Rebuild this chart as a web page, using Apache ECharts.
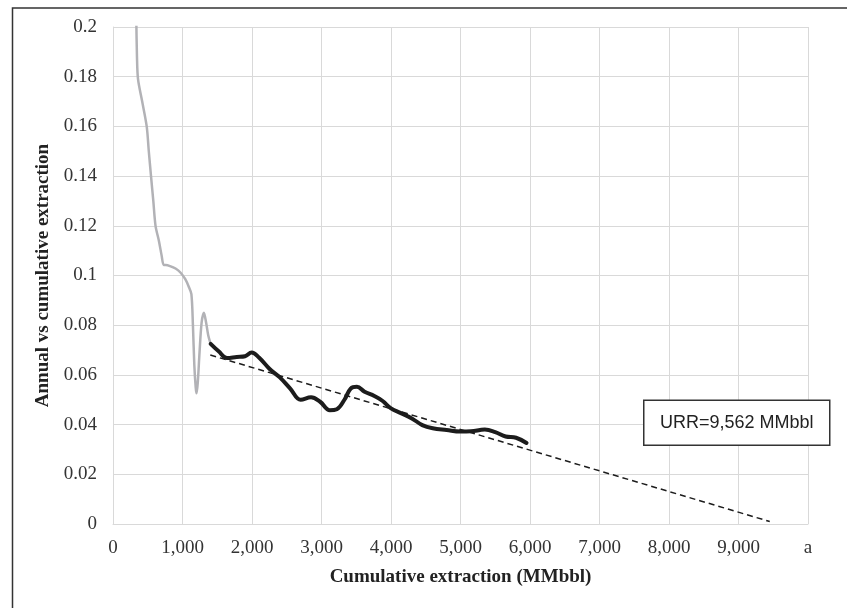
<!DOCTYPE html>
<html>
<head>
<meta charset="utf-8">
<script src="https://cdn.jsdelivr.net/npm/echarts@6/dist/echarts.min.js"></script>
<style>
html,body{margin:0;padding:0;background:#fff;}
#chart{width:847px;height:608px;}
</style>
</head>
<body>
<div id="chart"></div>
<script>
// ---- data ----
var xTickLabels = ['0','1,000','2,000','3,000','4,000','5,000','6,000','7,000','8,000','9,000','a'];
var yTickLabels = ['0','0.02','0.04','0.06','0.08','0.1','0.12','0.14','0.16','0.18','0.2'];

var earlyX = [334,345,360,420,485,515,547,580,612,660,700,730,760,820,900,970,1040,1090,1128,1150,1170,1190,1202,1220,1245,1275,1308,1340,1370,1400];
var earlyY = [0.205,0.188,0.179,0.170,0.160,0.150,0.140,0.130,0.120,0.114,0.108,0.1042,0.1042,0.1038,0.1028,0.1012,0.0985,0.0955,0.0925,0.080,0.064,0.055,0.0526,0.057,0.069,0.081,0.085,0.081,0.076,0.073];

var fitX = [1405,1520,1640,1780,1900,1995,2100,2250,2400,2550,2700,2850,2980,3120,3220,3330,3420,3510,3620,3760,3880,4000,4150,4300,4450,4600,4800,5000,5150,5350,5500,5650,5800,5950];
var fitY = [0.0725,0.0695,0.0668,0.0672,0.0675,0.0690,0.0670,0.0625,0.0590,0.0545,0.0500,0.0510,0.0492,0.0458,0.0462,0.0500,0.0545,0.0552,0.0532,0.0515,0.0495,0.0465,0.0445,0.0425,0.0398,0.0385,0.0378,0.0372,0.0373,0.0380,0.0370,0.0352,0.0347,0.0326];

var trendX = [1400, 9450];
var trendY = [0.068, 0.001];

var urrText = 'URR=9,562 MMbbl';
var xTitle = 'Cumulative extraction (MMbbl)';
var yTitle = 'Annual vs cumulative extraction';

function pairs(xs, ys){ return xs.map(function(x,i){ return [x, ys[i]]; }); }

var chart = echarts.init(document.getElementById('chart'), null, {renderer:'canvas'});
var serif = '"Liberation Serif","Times New Roman",serif';
var option = {
  animation: false,
  backgroundColor: '#fff',
  grid: {left: 113, top: 27, width: 695, height: 497, containLabel: false},
  xAxis: {
    type: 'value', min: 0, max: 10000, interval: 1000,
    name: xTitle, nameLocation: 'middle', nameGap: 44,
    nameTextStyle: {fontFamily: serif, fontWeight: 'bold', fontSize: 19, color: '#222'},
    axisLine: {show: true, lineStyle: {color: '#d9d9d9', width: 1}},
    axisTick: {show: false},
    splitLine: {show: true, lineStyle: {color: '#d9d9d9', width: 1}},
    axisLabel: {fontFamily: serif, fontSize: 19, color: '#333', margin: 15,
      formatter: function(v){ return xTickLabels[Math.round(v/1000)]; }}
  },
  yAxis: {
    type: 'value', min: 0, max: 0.2, interval: 0.02,
    name: yTitle, nameLocation: 'middle', nameGap: 57,
    nameTextStyle: {fontFamily: serif, fontWeight: 'bold', fontSize: 19, color: '#222'},
    axisLine: {show: true, lineStyle: {color: '#d9d9d9', width: 1}},
    axisTick: {show: false},
    splitLine: {show: true, lineStyle: {color: '#d9d9d9', width: 1}},
    axisLabel: {fontFamily: serif, fontSize: 19, color: '#333', margin: 16,
      formatter: function(v){ return yTickLabels[Math.round(v/0.02)]; }}
  },
  series: [
    {type: 'line', data: pairs(earlyX, earlyY), showSymbol: false, smooth: 0.3,
     lineStyle: {color: '#b2b2b6', width: 2.5}, clip: true, z: 2},
    {type: 'line', data: pairs(fitX, fitY), showSymbol: false, smooth: 0.4,
     lineStyle: {color: '#1c1c1c', width: 4, cap: 'round', join: 'round'}, clip: true, z: 3},
    {type: 'line', data: pairs(trendX, trendY), showSymbol: false,
     lineStyle: {color: '#1c1c1c', width: 1.5, type: [6, 4]}, z: 4}
  ],
  graphic: [
    {type: 'rect', left: 10, top: 5.5, shape: {width: 900, height: 700},
     style: {fill: 'none', stroke: '#333', lineWidth: 1.5}, silent: true, z: 0},
    {type: 'group', left: 643, top: 399.5, z: 100, zlevel: 1, children: [
      {type: 'rect', z: 100, zlevel: 1, shape: {x: 0, y: 0, width: 186, height: 45},
       style: {fill: '#fff', stroke: '#333', lineWidth: 1.5}},
      {type: 'text', z: 101, zlevel: 1, x: 93, y: 22.5,
       style: {text: urrText, fontFamily: '"Liberation Sans",Arial,sans-serif', fontSize: 18,
               fill: '#222', textAlign: 'center', textVerticalAlign: 'middle'}}
    ]}
  ]
};
chart.setOption(option);
</script>
</body>
</html>
